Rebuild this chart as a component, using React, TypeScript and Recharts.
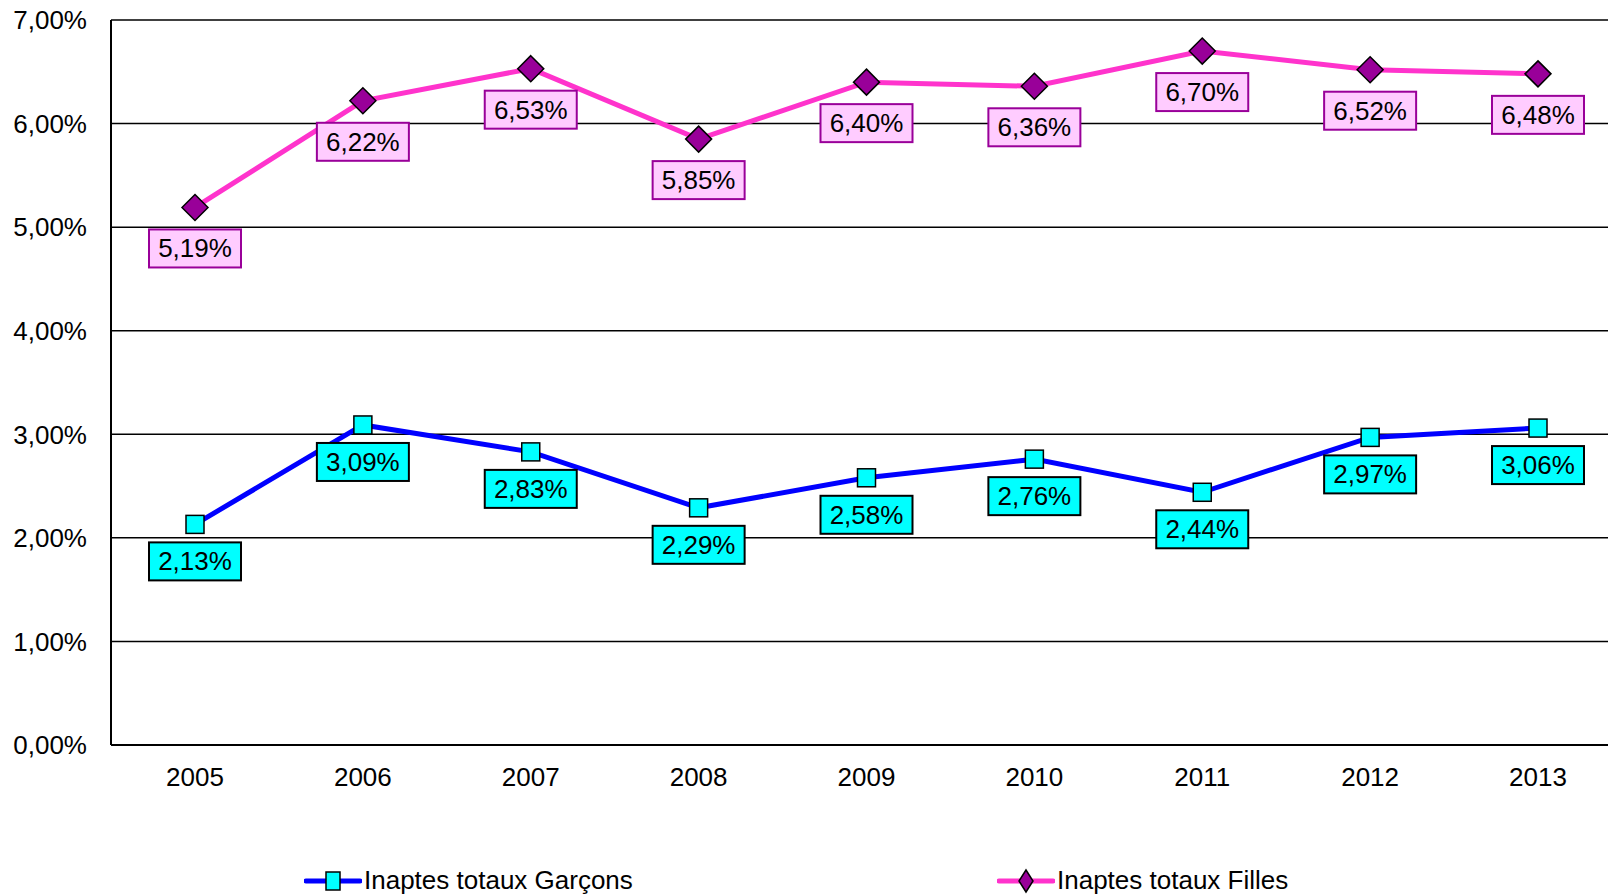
import { LineChart, Line, XAxis, YAxis, CartesianGrid, LabelList } from "recharts";

const years = ["2005", "2006", "2007", "2008", "2009", "2010", "2011", "2012", "2013"];
const garcons = [2.13, 3.09, 2.83, 2.29, 2.58, 2.76, 2.44, 2.97, 3.06];
const filles = [5.19, 6.22, 6.53, 5.85, 6.4, 6.36, 6.7, 6.52, 6.48];
const yTicks = [0, 1, 2, 3, 4, 5, 6, 7];

const BLUE = "#0000FF";
const CYAN = "#00FFFF";
const PINK = "#FF33CC";
const PURPLE = "#990099";
const PINK_BOX = "#FFCCFF";
const FONT = "'Liberation Sans', Arial, sans-serif";

const data = years.map((year, i) => ({ year, garcons: garcons[i], filles: filles[i] }));

const fmt = (v: number) => v.toFixed(2).replace(".", ",") + "%";

function SquareDot({ cx, cy }: any) {
  if (cx == null || cy == null) return null;
  return <rect x={cx - 9} y={cy - 9} width={18} height={18} fill={CYAN} stroke="#000" strokeWidth={1.5} />;
}

function DiamondDot({ cx, cy }: any) {
  if (cx == null || cy == null) return null;
  const r = 13;
  return (
    <path
      d={`M${cx},${cy - r} L${cx + r},${cy} L${cx},${cy + r} L${cx - r},${cy} Z`}
      fill={PURPLE}
      stroke="#000"
      strokeWidth={1.5}
    />
  );
}

function makeLabel(fill: string, stroke: string, offset: number) {
  return function BoxLabel({ x, y, value }: any) {
    if (x == null || y == null) return null;
    const cy = y + offset;
    return (
      <g>
        <rect x={x - 46} y={cy - 19} width={92} height={38} fill={fill} stroke={stroke} strokeWidth={2} />
        <text x={x} y={cy} textAnchor="middle" dominantBaseline="central" fontSize={26} fill="#000" fontFamily={FONT}>
          {fmt(value)}
        </text>
      </g>
    );
  };
}

const GarconLabel = makeLabel(CYAN, "#000", 37);
const FilleLabel = makeLabel(PINK_BOX, PURPLE, 41);

export default function App() {
  return (
    <div style={{ position: "absolute", left: 0, top: 0, width: 1608, height: 895, overflow: "hidden", background: "#fff", fontFamily: FONT }}>
      <LineChart width={1622} height={895} data={data} margin={{ top: 20, right: 0, bottom: 0, left: 0 }} style={{ fontFamily: FONT }}>
        <CartesianGrid vertical={false} stroke="#000" strokeWidth={1.5} />
        <XAxis
          dataKey="year"
          height={150}
          padding={{ left: 84, right: 84 }}
          tickLine={false}
          tickSize={0}
          tickMargin={23}
          axisLine={{ stroke: "#000", strokeWidth: 2 }}
          tick={{ fill: "#000", fontSize: 26 }}
        />
        <YAxis
          width={111}
          domain={[0, 7]}
          ticks={yTicks}
          tickFormatter={fmt}
          tickLine={false}
          tickSize={0}
          tickMargin={24}
          axisLine={{ stroke: "#000", strokeWidth: 2 }}
          tick={{ fill: "#000", fontSize: 26 }}
        />
        <Line dataKey="garcons" stroke={BLUE} strokeWidth={5} dot={<SquareDot />} isAnimationActive={false}>
          <LabelList dataKey="garcons" content={<GarconLabel />} />
        </Line>
        <Line dataKey="filles" stroke={PINK} strokeWidth={5} dot={<DiamondDot />} isAnimationActive={false}>
          <LabelList dataKey="filles" content={<FilleLabel />} />
        </Line>
      </LineChart>
      <div style={{ position: "absolute", left: 304, top: 865, display: "flex", alignItems: "center", fontSize: 26 }}>
        <svg width={58} height={28}>
          <line x1={2} y1={14} x2={56} y2={14} stroke={BLUE} strokeWidth={5} strokeLinecap="round" />
          <rect x={22} y={5} width={14} height={18} fill={CYAN} stroke="#000" strokeWidth={1.5} />
        </svg>
        <span style={{ marginLeft: 2 }}>Inaptes totaux Garçons</span>
      </div>
      <div style={{ position: "absolute", left: 997, top: 865, display: "flex", alignItems: "center", fontSize: 26 }}>
        <svg width={58} height={28}>
          <line x1={2} y1={14} x2={56} y2={14} stroke={PINK} strokeWidth={5} strokeLinecap="round" />
          <path d="M29,3 L36,14 L29,25 L22,14 Z" fill={PURPLE} stroke="#000" strokeWidth={1.5} />
        </svg>
        <span style={{ marginLeft: 2 }}>Inaptes totaux Filles</span>
      </div>
    </div>
  );
}
